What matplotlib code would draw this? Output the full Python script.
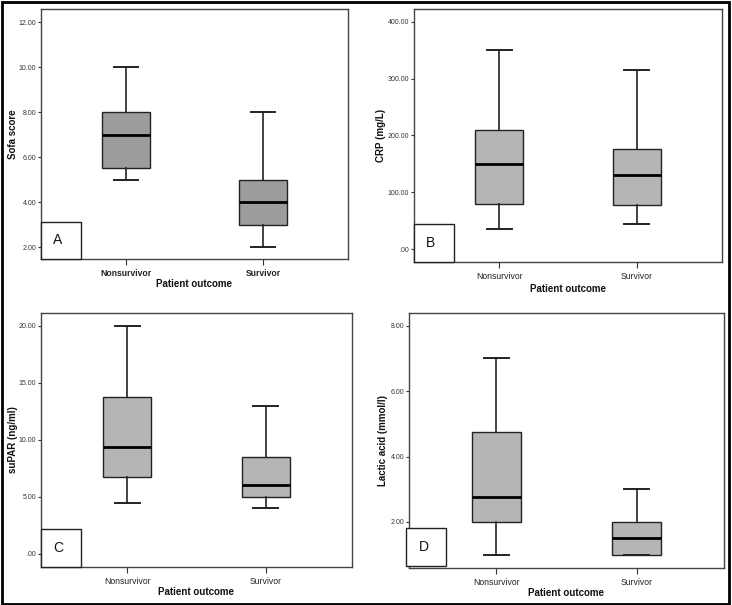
import matplotlib
matplotlib.use("Agg")
import matplotlib.pyplot as plt
from matplotlib.patches import Rectangle
from matplotlib.ticker import FuncFormatter

plt.rcParams['font.family'] = ['Liberation Sans', 'DejaVu Sans']

groups = ['Nonsurvivor', 'Survivor']

# five-number summaries: whisker low, q1, median, q3, whisker high
sofa_non = [5, 5.5, 7, 8, 10]
sofa_surv = [2, 3, 4, 5, 8]
crp_non = [35, 80, 150, 210, 350]
crp_surv = [45, 77, 130, 177, 315]
supar_non = [4.5, 6.75, 9.4, 13.75, 20]
supar_surv = [4, 5, 6, 8.5, 13]
lactic_non = [1, 2, 2.75, 4.75, 7]
lactic_surv = [1, 1, 1.5, 2, 3]

sofa_ticks = [2, 4, 6, 8, 10, 12]
crp_ticks = [0, 100, 200, 300, 400]
supar_ticks = [0, 5, 10, 15, 20]
lactic_ticks = [2, 4, 6, 8]

W, H = 732, 605
fig = plt.figure(figsize=(W / 100, H / 100), dpi=100)


def spss_fmt(v, pos):
    s = '%.2f' % v
    if s.startswith('0.'):
        s = s[1:]
    return s


def make_stats(vals):
    lo, q1, med, q3, hi = vals
    return dict(whislo=lo, q1=q1, med=med, q3=q3, whishi=hi, fliers=[])


def panel(px, ylim, ticks, non, surv, ylabel, letter, face, boldx=False,
          ylab_x=0.0, xt_y=0.0, xl_y=0.0, lbox=(0, 0.13, 0, 0.15)):
    l, r, t, b = px
    ax = fig.add_axes([l / W, 1 - b / H, (r - l) / W, (b - t) / H])
    stats = [make_stats(non), make_stats(surv)]
    ax.bxp(stats, positions=[1, 2], widths=0.35, showfliers=False,
           patch_artist=True,
           boxprops=dict(facecolor=face, edgecolor='#222222', linewidth=1.0),
           medianprops=dict(color='black', linewidth=2.0),
           whiskerprops=dict(color='#222222', linewidth=1.2),
           capprops=dict(color='#222222', linewidth=1.4),
           capwidths=0.18)
    ax.set_xlim(0.38, 2.62)
    ax.set_ylim(*ylim)
    ax.set_yticks(ticks)
    ax.yaxis.set_major_formatter(FuncFormatter(spss_fmt))
    ax.tick_params(axis='y', labelsize=5, length=2.5, width=0.8, pad=1,
                   colors='#333333')
    ax.tick_params(axis='x', length=4, width=0.8, pad=3, colors='#333333')
    ax.set_xticks([1, 2])
    ax.set_xticklabels(groups, fontsize=6.2,
                       fontweight='bold' if boldx else 'normal',
                       color='#222222')
    for sp in ax.spines.values():
        sp.set_color('#444444')
        sp.set_linewidth(1.0)
    ax.set_facecolor('white')
    # axis labels placed in figure pixel coords
    fig.text(ylab_x / W, 1 - (t + b) / 2 / H, ylabel, rotation=90,
             ha='center', va='center', fontsize=7, fontweight='bold',
             color='#111111')
    fig.text((l + r) / 2 / W, 1 - xl_y / H, 'Patient outcome', ha='center',
             va='center', fontsize=7, fontweight='bold', color='#111111')
    # letter box
    x0, x1, y0, y1 = lbox
    ax.add_patch(Rectangle((x0, y0), x1 - x0, y1 - y0, transform=ax.transAxes,
                           facecolor='white', edgecolor='#222222',
                           linewidth=1.0, zorder=5, clip_on=False))
    ax.text(x0 + 0.04, (y0 + y1) / 2, letter, transform=ax.transAxes,
            ha='left', va='center', fontsize=10, zorder=6, color='#111111')
    return ax


panel((41, 348, 9, 259), (1.47, 12.59), sofa_ticks, sofa_non, sofa_surv,
      'Sofa score', 'A', '#9c9c9c', boldx=True, ylab_x=13, xl_y=284,
      lbox=(0, 0.13, 0, 0.148))
panel((414, 722, 9, 262), (-22.3, 422.3), crp_ticks, crp_non, crp_surv,
      'CRP (mg/L)', 'B', '#b5b5b5', ylab_x=381, xl_y=289,
      lbox=(0, 0.129, 0, 0.15))
panel((41, 352, 313, 567), (-1.14, 21.11), supar_ticks, supar_non,
      supar_surv, 'suPAR (ng/ml)', 'C', '#b5b5b5', ylab_x=13, xl_y=592,
      lbox=(0, 0.129, 0, 0.15))
panel((409, 724, 313, 568), (0.59, 8.39), lactic_ticks, lactic_non,
      lactic_surv, 'Lactic acid (mmol/l)', 'D', '#b5b5b5', ylab_x=383,
      xl_y=593, lbox=(-0.0095, 0.117, 0.008, 0.157))

# outer frame around the whole figure
fig.add_artist(Rectangle((1.5 / W, 1.5 / H), (W - 5) / W, (H - 3.5) / H,
                         transform=fig.transFigure, fill=False,
                         edgecolor='black', linewidth=2.0))

fig.savefig('out.png', dpi=100)
